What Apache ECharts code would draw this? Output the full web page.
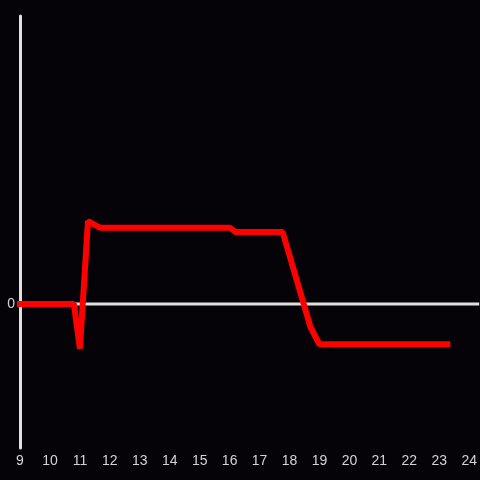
<!DOCTYPE html>
<html>
<head>
<meta charset="utf-8">
<script src="https://cdn.jsdelivr.net/npm/echarts@6/dist/echarts.min.js"></script>
<style>
  html, body { margin: 0; padding: 0; background: #050308; }
  #chart { width: 480px; height: 480px; }
</style>
</head>
<body>
<div id="chart"></div>
<script>
// x in hours, y relative to the zero line
const xValues = [9, 10.8, 11.0, 11.27, 11.67, 16.0, 16.2, 17.77, 18.7, 19.0, 23.27];
const yValues = [0, 0, -0.31, 0.575, 0.53, 0.53, 0.5, 0.5, -0.16, -0.28, -0.28];
const xTicks = [9, 10, 11, 12, 13, 14, 15, 16, 17, 18, 19, 20, 21, 22, 23, 24];
const xMin = 9;
const xMax = 9 + 460 / 30;
const zeroLine = [[xMin, 0], [xMax, 0]];

const points = xValues.map((x, i) => [x, yValues[i]]);

const myChart = echarts.init(document.getElementById('chart'));
const axisColor = '#e0e0e0';
const labelColor = '#d4d4d4';

const option = {
  backgroundColor: '#050308',
  animation: false,
  grid: { left: 20, right: 0, top: 16, bottom: 32 },
  xAxis: {
    type: 'value',
    min: xMin,
    max: xMax,
    interval: 1,
    axisLine: { show: false },
    axisTick: { show: false },
    splitLine: { show: false },
    axisLabel: {
      color: labelColor,
      fontSize: 14,
      margin: 6,
      showMaxLabel: false,
      formatter: (v) => (xTicks.indexOf(Math.round(v)) >= 0 && Math.abs(v - Math.round(v)) < 1e-6 ? String(Math.round(v)) : ''),
    },
  },
  yAxis: {
    type: 'value',
    min: -1,
    max: 2,
    interval: 1,
    axisLine: { show: true, lineStyle: { color: axisColor, width: 3 } },
    axisTick: { show: false },
    splitLine: { show: false },
    axisLabel: {
      color: labelColor,
      fontSize: 14,
      margin: 5,
      formatter: (v) => (v === 0 ? '0' : ''),
    },
  },
  series: [
    {
      type: 'line',
      data: zeroLine,
      symbol: 'none',
      silent: true,
      z: 1,
      lineStyle: { color: axisColor, width: 3 },
    },
    {
      type: 'line',
      data: points,
      symbol: 'none',
      z: 5,
      lineStyle: { color: '#ff0000', width: 6, cap: 'square' },
    },
  ],
};

myChart.setOption(option);
</script>
</body>
</html>
